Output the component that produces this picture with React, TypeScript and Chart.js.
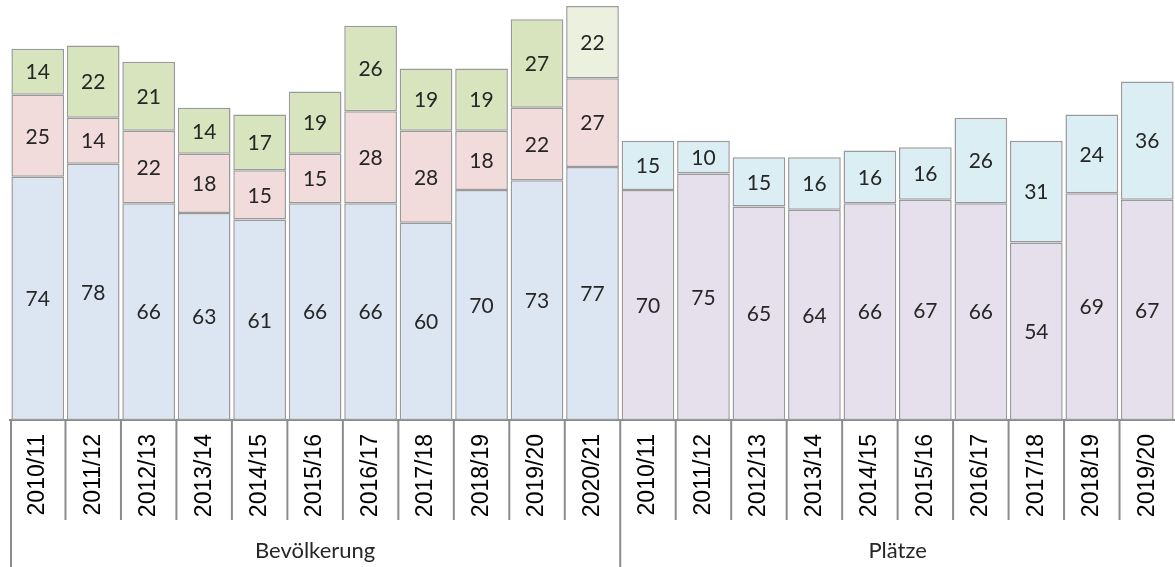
import React, { useEffect, useRef } from "react";
import { Chart, registerables } from "chart.js";

Chart.register(...registerables);

const bevYears = ["2010/11", "2011/12", "2012/13", "2013/14", "2014/15", "2015/16", "2016/17", "2017/18", "2018/19", "2019/20", "2020/21"];
const platzYears = ["2010/11", "2011/12", "2012/13", "2013/14", "2014/15", "2015/16", "2016/17", "2017/18", "2018/19", "2019/20"];
const groupNames = ["Bevölkerung", "Plätze"];

const bevBottom = [74, 78, 66, 63, 61, 66, 66, 60, 70, 73, 77];
const bevMiddle = [25, 14, 22, 18, 15, 15, 28, 28, 18, 22, 27];
const bevTop = [14, 22, 21, 14, 17, 19, 26, 19, 19, 27, 22];
const platzBottom = [70, 75, 65, 64, 66, 67, 66, 54, 69, 67];
const platzTop = [15, 10, 15, 16, 16, 16, 26, 31, 24, 36];

const C_BLUE = "#dce6f2";
const C_PINK = "#f2dcdb";
const C_GREEN = "#d7e4bd";
const C_LGREEN = "#ebf1de";
const C_PURPLE = "#e5e0ec";
const C_CYAN = "#dbeef4";
const C_BORDER = "#9a9a9a";
const C_LINE = "#8c8c8c";

export default function App() {
  const ref = useRef<HTMLCanvasElement | null>(null);

  useEffect(() => {
    const canvas = ref.current;
    if (!canvas) return;
    const nB = bevYears.length;
    const nP = platzYears.length;
    const labels = [...bevYears, ...platzYears];
    const nulls = (n: number) => new Array(n).fill(null);

    const bottomColors = [...bevYears.map(() => C_BLUE), ...platzYears.map(() => C_PURPLE)];
    const topColors = [
      ...bevYears.map((_, i) => (i === nB - 1 ? C_LGREEN : C_GREEN)),
      ...platzYears.map(() => C_CYAN),
    ];

    const common = {
      borderColor: C_BORDER,
      borderWidth: 1.5,
      borderSkipped: false as const,
      barPercentage: 0.95,
      categoryPercentage: 1,
    };

    const overlay = {
      id: "overlay",
      afterDatasetsDraw(chart: any) {
        const ctx = chart.ctx;
        ctx.save();
        ctx.fillStyle = "#262626";
        ctx.font = "21px Lato";
        ctx.textAlign = "center";
        ctx.textBaseline = "middle";
        chart.data.datasets.forEach((ds: any, di: number) => {
          const meta = chart.getDatasetMeta(di);
          meta.data.forEach((el: any, i: number) => {
            const v = ds.data[i];
            if (v === null || v === undefined) return;
            const p = el.getProps(["x", "y", "base"], true);
            ctx.fillText(String(v), p.x, (p.y + p.base) / 2 + 1);
          });
        });
        ctx.restore();
      },
      afterDraw(chart: any) {
        const ctx = chart.ctx;
        const xs = chart.scales.x;
        const n = chart.data.labels.length;
        const w = (xs.right - xs.left) / n;
        const bottom = chart.chartArea.bottom;
        const H = chart.height;
        ctx.save();
        ctx.strokeStyle = C_LINE;
        ctx.lineWidth = 2;
        for (let i = 0; i < n; i++) {
          const x = i === 0 ? xs.left + 1 : (xs.getPixelForValue(i - 1) + xs.getPixelForValue(i)) / 2;
          const isGroup = i === 0 || i === nB;
          ctx.beginPath();
          ctx.moveTo(x, bottom);
          ctx.lineTo(x, isGroup ? H : bottom + 100);
          ctx.stroke();
        }
        ctx.fillStyle = "#262626";
        ctx.font = "22px Lato";
        ctx.textAlign = "center";
        ctx.textBaseline = "middle";
        const g1 = (xs.left + (xs.getPixelForValue(nB - 1) + w / 2)) / 2;
        const g2Left = xs.getPixelForValue(nB) - w / 2;
        const g2Right = xs.getPixelForValue(n - 1) + w / 2;
        ctx.fillText(groupNames[0], g1, 551);
        ctx.fillText(groupNames[1], (g2Left + g2Right) / 2, 551);
        ctx.restore();
      },
    };

    const chart = new Chart(canvas, {
      type: "bar",
      data: {
        labels,
        datasets: [
          { ...common, label: "bottom", data: [...bevBottom, ...platzBottom], backgroundColor: bottomColors },
          { ...common, label: "middle", data: [...bevMiddle, ...nulls(nP)], backgroundColor: C_PINK },
          { ...common, label: "top", data: [...bevTop, ...platzTop], backgroundColor: topColors },
        ],
      },
      options: {
        responsive: false,
        animation: false,
        layout: { padding: { top: 6, left: 10, right: -5, bottom: 0 } },
        plugins: { legend: { display: false }, tooltip: { enabled: false } },
        scales: {
          x: {
            stacked: true,
            grid: { display: false, drawTicks: false },
            border: { display: true, color: C_LINE, width: 2 },
            ticks: {
              maxRotation: 90,
              minRotation: 90,
              autoSkip: false,
              padding: 14,
              color: "#000",
              font: { family: "Liberation Sans", size: 23 },
            },
            afterFit(scale: any) {
              scale.height = 147;
              scale.paddingLeft = 0;
              scale.paddingRight = 0;
            },
          },
          y: {
            stacked: true,
            display: false,
            min: 0,
            max: 126,
          },
        },
      },
      plugins: [overlay],
    } as any);

    return () => chart.destroy();
  }, []);

  return (
    <div style={{ position: "absolute", left: 0, top: 0, width: 1175, height: 567, background: "#fff", overflow: "hidden" }}>
      <canvas ref={ref} width={1175} height={567} />
    </div>
  );
}
